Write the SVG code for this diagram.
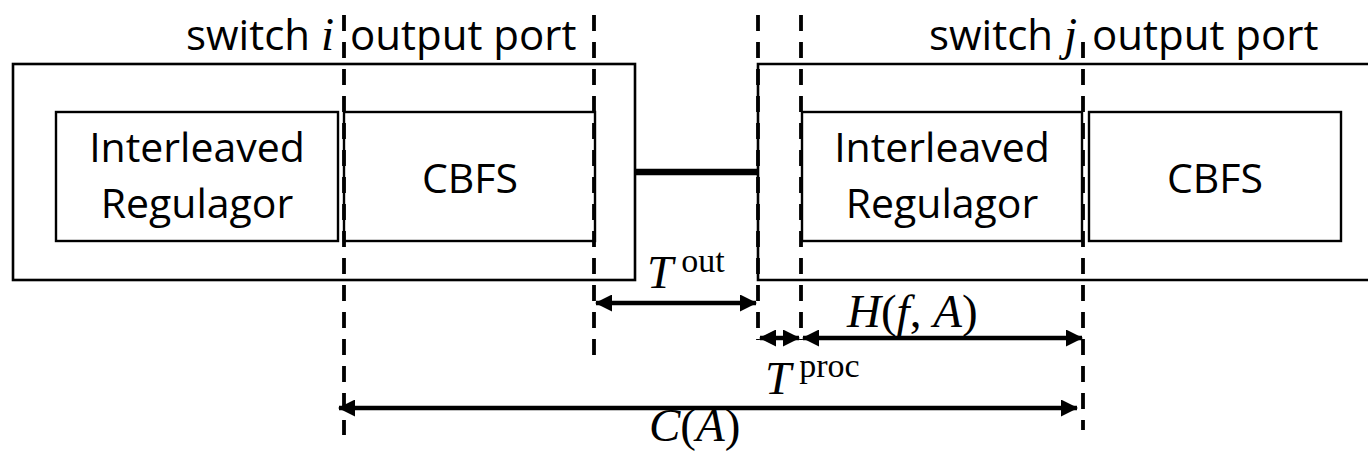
<svg xmlns="http://www.w3.org/2000/svg" width="1368" height="456" viewBox="0 0 1368 456">
<style>
.box{fill:none;stroke:#000;stroke-width:2.4}
.outer{fill:none;stroke:#000;stroke-width:2.6}
.dash{stroke:#000;stroke-width:3.8;stroke-dasharray:16 11;fill:none}
.arr{stroke:#000;stroke-width:4.5;fill:none;marker-start:url(#ah);marker-end:url(#ah)}
.t{font-family:"Open Sans","Liberation Sans",sans-serif;font-size:41px;fill:#000}
.tt{font-size:42px}
.m{font-family:"Liberation Serif","DejaVu Serif",serif;font-size:47px;fill:#000}
.mi{font-style:italic}
.sup{font-size:34px}
</style>
<defs>
<marker id="ah" markerUnits="userSpaceOnUse" markerWidth="17" markerHeight="17" viewBox="0 0 17 17" refX="16" refY="8.5" orient="auto-start-reverse">
<path d="M0,0 L17,8.5 L0,17 Z" fill="#000"/>
</marker>
</defs>
<g id="switch-i">
<rect class="outer" x="13" y="64" width="622" height="216"/>
<text class="t tt" x="186" y="50">switch <tspan class="m mi" font-size="42">i</tspan></text>
<text class="t tt" x="350" y="50">output port</text>
</g>
<g id="interleaved-i">
<rect class="box" x="56" y="112" width="282" height="129"/>
<text class="t" x="197" y="162" text-anchor="middle">Interleaved</text>
<text class="t" x="197" y="218" text-anchor="middle">Regulagor</text>
</g>
<g id="cbfs-i">
<rect class="box" x="344" y="112" width="251" height="129"/>
<text class="t" x="470" y="193" text-anchor="middle">CBFS</text>
</g>
<g id="switch-j">
<path class="outer" d="M1370,64 H758 V280 H1370"/>
<text class="t tt" x="929" y="50">switch <tspan class="m mi" font-size="42">j</tspan></text>
<text class="t tt" x="1092" y="50">output port</text>
</g>
<g id="interleaved-j">
<rect class="box" x="802" y="112" width="280" height="129"/>
<text class="t" x="942" y="162" text-anchor="middle">Interleaved</text>
<text class="t" x="942" y="218" text-anchor="middle">Regulagor</text>
</g>
<g id="cbfs-j">
<rect class="box" x="1089" y="112" width="252" height="129"/>
<text class="t" x="1215" y="193" text-anchor="middle">CBFS</text>
</g>
<g id="connectors">
<line x1="635" y1="172" x2="758" y2="172" stroke="#000" stroke-width="6.5"/>
<line class="dash" x1="344" y1="15" x2="344" y2="435"/>
<line class="dash" x1="594" y1="15" x2="594" y2="355"/>
<line class="dash" x1="758" y1="15" x2="758" y2="340"/>
<line class="dash" x1="801" y1="15" x2="801" y2="340"/>
<line class="dash" x1="1083" y1="42" x2="1083" y2="430"/>
<line class="arr" x1="596" y1="303" x2="756" y2="303"/>
<line class="arr" x1="760" y1="338" x2="799" y2="338"/>
<line class="arr" x1="803" y1="338" x2="1082" y2="338"/>
<line class="arr" x1="339" y1="408" x2="1077" y2="408"/>
</g>
<g id="labels">
<text class="m" x="647" y="288"><tspan class="mi">T</tspan><tspan class="sup" dx="8" dy="-16">out</tspan></text>
<text class="m" x="847" y="327"><tspan class="mi">H</tspan>(<tspan class="mi">f</tspan>, <tspan class="mi">A</tspan>)</text>
<text class="m" x="765" y="394"><tspan class="mi">T</tspan><tspan class="sup" dx="8" dy="-17">proc</tspan></text>
<text class="m" x="649" y="441"><tspan class="mi">C</tspan>(<tspan class="mi">A</tspan>)</text>
</g>
</svg>
